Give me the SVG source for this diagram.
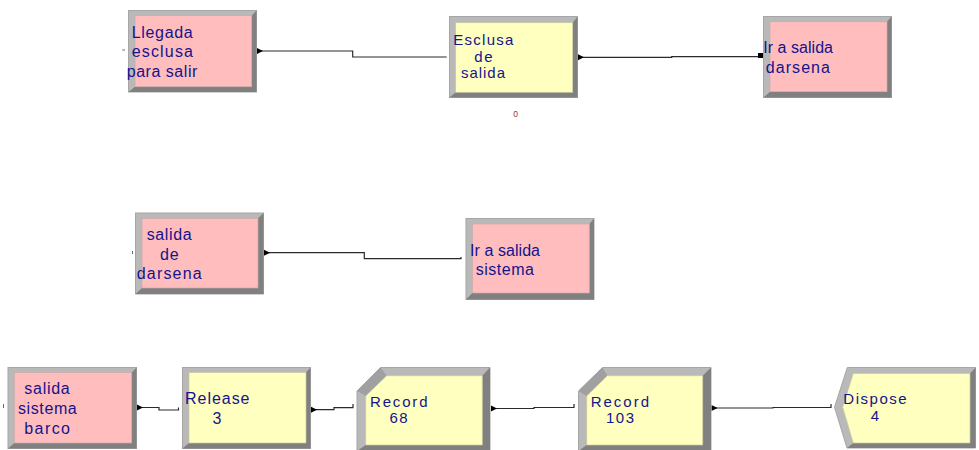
<svg xmlns="http://www.w3.org/2000/svg" width="979" height="450" viewBox="0 0 979 450">
<style>
.o{stroke:#a6a6a6;stroke-width:1;fill:#b9b9b9}
.d{fill:#808080}
.p{fill:#ffbdbd;stroke:#c8a8a8;stroke-width:.7}
.y{fill:#ffffc0;stroke:#c8c8a0;stroke-width:.7}
.t{font-family:"Liberation Sans",Arial,sans-serif;font-size:16px;fill:#14148c}
.m{font-size:15px}
.c{fill:none;stroke:#2a2a2a;stroke-width:1.2}
.s{fill:none;stroke:#666;stroke-width:1}
.a{fill:#000}
</style>
<g id="connectors">
<path class="c" d="M257 51H352.7V57H446.7"/>
<path class="c" d="M578 57.3H671.7V56.7H760"/>
<path class="c" d="M264 252.7H364.3V258.7H461V257"/>
<path class="c" d="M137 407.5H159V410H178.5V407.5"/>
<path class="c" d="M311 409.7H334V407.7H353V404"/>
<path class="c" d="M491 408.5H534V407.5H574V404"/>
<path class="c" d="M711.5 408H773V407.5H831V404"/>
<path class="s" d="M122.3 50H125M132.5 251V254M3.5 404V408"/>
<polygon class="a" points="257,48 263,51 257,54"/>
<polygon class="a" points="578,54.3 584,57.3 578,60.3"/>
<rect class="a" x="758" y="53" width="5" height="5"/>
<polygon class="a" points="264,249.7 270,252.7 264,255.7"/>
<polygon class="a" points="137,404.5 143,407.5 137,410.5"/>
<polygon class="a" points="311,406.7 317,409.7 311,412.7"/>
<polygon class="a" points="491,405.5 497,408.5 491,411.5"/>
<polygon class="a" points="711.5,405 717.5,408 711.5,411"/>
</g>
<g id="llegada">
<rect class="o" x="128.5" y="10.5" width="128" height="81.5"/>
<polygon class="d" points="256.5,10.5 256.5,92 128.5,92 135,86.7 251.7,86.7 251.7,15.7"/>
<rect class="p" x="135" y="15.7" width="116.7" height="71"/>
<text class="t" x="131.7" y="38" textLength="61">Llegada</text>
<text class="t" x="131.7" y="57" textLength="61.3">esclusa</text>
<text class="t" x="126.7" y="77" textLength="70.6">para salir</text>
</g>
<g id="esclusa">
<rect class="o" x="449.5" y="16.5" width="128" height="81"/>
<polygon class="d" points="577.5,16.5 577.5,97.5 449.5,97.5 455.7,92.3 572.7,92.3 572.7,22.7"/>
<rect class="y" x="455.7" y="22.7" width="117" height="69.6"/>
<text class="t m" x="453.3" y="45" textLength="60">Esclusa</text>
<text class="t m" x="474.3" y="62" textLength="18.4">de</text>
<text class="t m" x="461" y="78" textLength="44">salida</text>
<text x="513.3" y="117" font-family="Liberation Sans,Arial,sans-serif" font-size="8.5" fill="#a03030">0</text>
</g>
<g id="ir-darsena">
<rect class="o" x="763.5" y="16.5" width="128" height="81"/>
<polygon class="d" points="891.5,16.5 891.5,97.5 763.5,97.5 770,91.7 887,91.7 887,21.7"/>
<rect class="p" x="770" y="21.7" width="117" height="70"/>
<text class="t" x="763.3" y="53" textLength="69.7">Ir a salida</text>
<text class="t" x="765.7" y="73" textLength="64.3">darsena</text>
</g>
<g id="salida-darsena">
<rect class="o" x="135.5" y="213" width="128" height="81"/>
<polygon class="d" points="263.5,213 263.5,294 135.5,294 142,288 258,288 258,218.3"/>
<rect class="p" x="142" y="218.3" width="116" height="69.7"/>
<text class="t" x="146.7" y="240" textLength="45">salida</text>
<text class="t" x="160" y="260" textLength="18.7">de</text>
<text class="t" x="136.7" y="279" textLength="65">darsena</text>
</g>
<g id="ir-sistema">
<rect class="o" x="466" y="218.5" width="128" height="81"/>
<polygon class="d" points="594,218.5 594,299.5 466,299.5 472.3,293 589.3,293 589.3,224"/>
<rect class="p" x="472.3" y="224" width="117" height="69"/>
<text class="t" x="470" y="256" textLength="70">Ir a salida</text>
<text class="t" x="475.7" y="275.3" textLength="58.3">sistema</text>
</g>
<g id="salida-sistema">
<rect class="o" x="8" y="367.5" width="128.5" height="81"/>
<polygon class="d" points="136.5,367.5 136.5,448.5 8,448.5 14.3,443 131.7,443 131.7,372.5"/>
<rect class="p" x="14.3" y="372.5" width="117.4" height="70.5"/>
<text class="t" x="24.3" y="394.3" textLength="45.4">salida</text>
<text class="t" x="18" y="414.3" textLength="58.7">sistema</text>
<text class="t" x="24.3" y="433.7" textLength="45.7">barco</text>
</g>
<g id="release">
<rect class="o" x="182.5" y="367.5" width="128" height="81"/>
<polygon class="d" points="310.5,367.5 310.5,448.5 182.5,448.5 189,443 306,443 306,372.5"/>
<rect class="y" x="189" y="372.5" width="117" height="70.5"/>
<text class="t" x="185" y="404.3" textLength="64.5">Release</text>
<text class="t" x="212.5" y="424.3">3</text>
</g>
<g id="record-68">
<polygon class="o" points="357,391 380.5,367.5 490,367.5 490,451 357,451"/>
<polygon class="d" points="490,367.5 490,451 357,451 365.7,445 482.3,445 482.3,375.7"/>
<polygon points="357,391 380.5,367.5 386.7,375.7 365.7,396" fill="#a0a0a0"/>
<polygon class="y" points="365.7,396 386.7,375.7 482.3,375.7 482.3,445 365.7,445"/>
<text class="t m" x="370" y="407.3" textLength="57.5">Record</text>
<text class="t m" x="389.5" y="423.3" textLength="18">68</text>
</g>
<g id="record-103">
<polygon class="o" points="578.5,391 602.5,367.5 711,367.5 711,451 578.5,451"/>
<polygon class="d" points="711,367.5 711,451 578.5,451 586.7,445 702.7,445 702.7,375.7"/>
<polygon points="578.5,391 602.5,367.5 607.3,375.7 586.7,396" fill="#a0a0a0"/>
<polygon class="y" points="586.7,396 607.3,375.7 702.7,375.7 702.7,445 586.7,445"/>
<text class="t m" x="590.7" y="407.3" textLength="58.3">Record</text>
<text class="t m" x="606" y="423.3" textLength="28">103</text>
</g>
<g id="dispose">
<polygon class="o" points="847.3,367.5 975.5,367.5 975.5,448 847,448 834.5,407.3"/>
<polygon class="d" points="975.5,367.5 975.5,448 847,448 853.3,443 970,443 970,373.5"/>
<polygon class="y" points="853.3,373.5 970,373.5 970,443 853.3,443 842.7,407.3"/>
<text class="t m" x="843.3" y="404.3" textLength="63.4">Dispose</text>
<text class="t m" x="870.7" y="421">4</text>
</g>
</svg>
